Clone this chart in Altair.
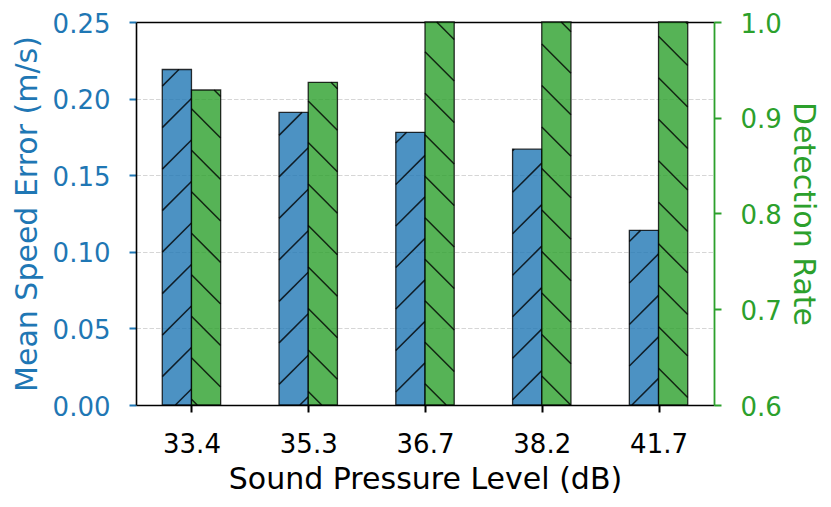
import altair as alt
import pandas as pd
import numpy as np

# ---------------- data ----------------
categories = ["33.4", "35.3", "36.7", "38.2", "41.7"]
speed_error = [0.219, 0.191, 0.178, 0.167, 0.114]
detection_rate = [0.929, 0.937, 1.0, 1.0, 1.0]
speed_ticks = [0.0, 0.05, 0.10, 0.15, 0.20, 0.25]
rate_ticks = [0.6, 0.7, 0.8, 0.9, 1.0]

# ---------------- style / layout ----------------
BLUE = "#1f77b4"
GREEN = "#2ca02c"
FONT = "DejaVu Sans"
W, H = 578, 383
LEFT, TOP = 136, 22
BAR_W = 0.25
X_DOM = [-0.475, 4.475]
SPEED_DOM = [0.0, 0.25]
RATE_DOM = [0.6, 1.0]
HATCH_P = 41.5

idx = list(range(len(categories)))
speed_df = pd.DataFrame({
    "cat": categories,
    "x0": [i - BAR_W for i in idx],
    "x1": [float(i) for i in idx],
    "value": speed_error,
    "base": [SPEED_DOM[0]] * len(idx),
})
rate_df = pd.DataFrame({
    "cat": categories,
    "x0": [float(i) for i in idx],
    "x1": [i + BAR_W for i in idx],
    "value": detection_rate,
    "base": [RATE_DOM[0]] * len(idx),
})


def px_x(u):
    return (u - X_DOM[0]) / (X_DOM[1] - X_DOM[0]) * W


def inv_x(p):
    return X_DOM[0] + p / W * (X_DOM[1] - X_DOM[0])


def px_y(v, dom):
    return H - (v - dom[0]) / (dom[1] - dom[0]) * H


def inv_y(p, dom):
    return dom[0] + (H - p) / H * (dom[1] - dom[0])


def hatch(df, dom, direction, phase):
    """Clip a page-aligned 45 degree hatch pattern to each bar (derived from data)."""
    rows = []
    for _, r in df.iterrows():
        XL, XR = px_x(r.x0) + LEFT, px_x(r.x1) + LEFT
        YT, YB = px_y(r.value, dom) + TOP, px_y(r.base, dom) + TOP
        if direction == "/":
            cmin, cmax = XL + YT, XR + YB
        else:
            cmin, cmax = YT - XR, YB - XL
        k0 = int(np.ceil((cmin - phase) / HATCH_P))
        k1 = int(np.floor((cmax - phase) / HATCH_P))
        for k in range(k0, k1 + 1):
            c = phase + k * HATCH_P
            if direction == "/":
                lo, hi = max(XL, c - YB), min(XR, c - YT)
                if hi - lo < 0.5:
                    continue
                p0, p1 = (lo, c - lo), (hi, c - hi)
            else:
                lo, hi = max(XL, YT - c), min(XR, YB - c)
                if hi - lo < 0.5:
                    continue
                p0, p1 = (lo, lo + c), (hi, hi + c)
            rows.append({
                "x0": inv_x(p0[0] - LEFT), "x1": inv_x(p1[0] - LEFT),
                "value": inv_y(p0[1] - TOP, dom), "base": inv_y(p1[1] - TOP, dom),
            })
    return pd.DataFrame(rows)


speed_hatch = hatch(speed_df, SPEED_DOM, "/", -0.6)
rate_hatch = hatch(rate_df, RATE_DOM, "\\", 0.3)

label_expr = "[" + ",".join("'%s'" % c for c in categories) + "][datum.value]"

x_scale = alt.Scale(domain=X_DOM, nice=False, zero=False)
x_axis = alt.Axis(
    values=idx, labelExpr=label_expr, grid=False, labelFlush=False, labelOverlap=False,
    tickSize=7, tickWidth=2, tickColor="black", labelPadding=19, labelFontSize=26,
    labelColor="black", domainColor="black", domainWidth=1.6,
    titleFontSize=30, titleColor="black",
    titleX=W / 2, titleY=83, titleAlign="center", titleBaseline="alphabetic", titleAngle=0,
)
X_TITLE = "Sound Pressure Level (dB)"

speed_scale = alt.Scale(domain=SPEED_DOM, nice=False, zero=False)
rate_scale = alt.Scale(domain=RATE_DOM, nice=False, zero=False)

# the grid line at the top of the left scale doubles as the top spine
top_test = "datum.value >= 0.2499"
left_axis = alt.Axis(
    orient="left", values=speed_ticks, format=".2f", grid=True,
    gridColor={"condition": {"test": top_test, "value": "black"}, "value": "#cccccc"},
    gridDash={"condition": {"test": top_test, "value": []}, "value": [4.5, 2]},
    gridWidth={"condition": {"test": top_test, "value": 1.6}, "value": 1},
    gridOpacity={"condition": {"test": top_test, "value": 1}, "value": 0.8},
    tickSize=7, tickWidth=2, tickColor=BLUE, labelColor=BLUE, labelFontSize=26,
    labelPadding=19, labelOffset=2, domainColor="black", domainWidth=1.6,
    titleColor=BLUE, titleFontSize=30,
    titleX=-100, titleY=H / 2, titleAngle=270, titleAlign="center", titleBaseline="alphabetic",
)
LEFT_TITLE = "Mean Speed Error (m/s)"
right_axis = alt.Axis(
    orient="right", values=rate_ticks, format=".1f", grid=False,
    tickSize=7, tickWidth=2, tickColor=GREEN, labelColor=GREEN, labelFontSize=26,
    labelPadding=19, labelOffset=2, domainColor=GREEN, domainWidth=1.8, zindex=1,
    titleColor=GREEN, titleFontSize=30,
    titleX=79.5, titleY=H / 2, titleAngle=90, titleAlign="center", titleBaseline="alphabetic",
)
RIGHT_TITLE = "Detection Rate"


def enc(chart, y_scale, y_axis, y_title):
    return chart.encode(
        x=alt.X("x0:Q", scale=x_scale, axis=x_axis, title=X_TITLE),
        x2="x1:Q",
        y=alt.Y("value:Q", scale=y_scale, axis=y_axis, title=y_title),
        y2="base:Q",
    )


speed_bars = enc(alt.Chart(speed_df).mark_rect(
    fill=BLUE, fillOpacity=0.8, stroke="black", strokeOpacity=0.8, strokeWidth=1.3
), speed_scale, left_axis, LEFT_TITLE)
speed_lines = enc(alt.Chart(speed_hatch).mark_rule(
    stroke="black", strokeOpacity=0.8, strokeWidth=1.5
), speed_scale, left_axis, LEFT_TITLE)

rate_bars = enc(alt.Chart(rate_df).mark_rect(
    fill=GREEN, fillOpacity=0.8, stroke="black", strokeOpacity=0.8, strokeWidth=1.3
), rate_scale, right_axis, RIGHT_TITLE)
rate_lines = enc(alt.Chart(rate_hatch).mark_rule(
    stroke="black", strokeOpacity=0.8, strokeWidth=1.5
), rate_scale, right_axis, RIGHT_TITLE)

left_layer = alt.layer(speed_bars, speed_lines)
right_layer = alt.layer(rate_bars, rate_lines)

chart = alt.layer(left_layer, right_layer).resolve_scale(y="independent").properties(
    width=W, height=H,
    padding={"left": LEFT - 8, "top": TOP - 8, "right": 109, "bottom": 96},
    autosize=alt.AutoSizeParams(type="none"),
    background="white",
).configure_view(
    strokeWidth=0
).configure_axis(
    labelFont=FONT, titleFont=FONT, titleFontWeight="normal"
)

chart.save("out.html", embed_options={"renderer": "svg", "actions": False})
